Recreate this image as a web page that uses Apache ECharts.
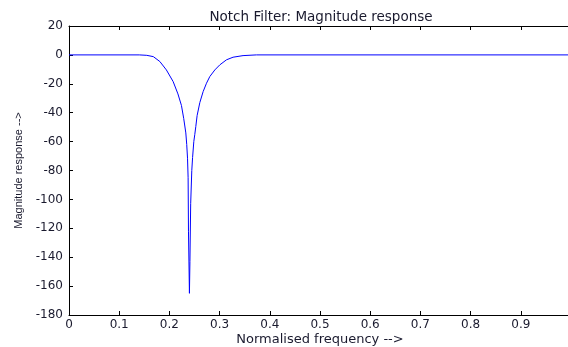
<!DOCTYPE html>
<html lang="en">
<head>
    <meta charset="UTF-8">
    <title>Notch Filter</title>
    <script src="https://cdn.jsdelivr.net/npm/echarts@6/dist/echarts.min.js"></script>
    <style>
        html, body { margin: 0; padding: 0; background: #fff; }
        #chart { width: 568px; height: 347px; }
    </style>
</head>
<body>
<div id="chart"></div>
<script>
    // normalised frequency and magnitude (dB)
    var freq = [0, 0.140, 0.155, 0.168, 0.181, 0.194, 0.2075, 0.217, 0.224, 0.2285, 0.2327, 0.2345,
        0.2361, 0.2373, 0.2380, 0.2399, 0.2409, 0.2424, 0.2446, 0.2462, 0.2486, 0.2506, 0.2526,
        0.2552, 0.2606, 0.2672, 0.2739, 0.2805, 0.2905, 0.3004, 0.3137, 0.3268, 0.3467, 0.3734, 1.0];
    var magnitude = [0, 0, -0.3, -1.2, -4.6, -10.4, -18.5, -27, -35, -44, -54, -62,
        -71.5, -85, -122, -165, -143, -103, -80, -71, -60, -55, -49.6,
        -42, -33, -25.4, -19.6, -15, -10.4, -6.9, -3.4, -1.6, -0.5, 0, 0];
    var xTicks = [0, 0.1, 0.2, 0.3, 0.4, 0.5, 0.6, 0.7, 0.8, 0.9];
    var yTicks = [-180, -160, -140, -120, -100, -80, -60, -40, -20, 0, 20];

    var points = freq.map(function (f, i) { return [f, magnitude[i]]; });
    // the picture is stretched sideways: wide font across, narrow font for the rotated name
    var wide = 'DejaVu Sans, Verdana, sans-serif';
    var narrow = 'Liberation Sans Narrow, Arial Narrow, Liberation Sans, sans-serif';
    var ink = '#1a1a2e';
    var axisBase = {
        axisLine: { onZero: false, lineStyle: { color: '#000', width: 1 } },
        axisTick: { inside: true, length: 4, lineStyle: { color: '#000' } },
        splitLine: { show: false }
    };

    var chart = echarts.init(document.getElementById('chart'));
    chart.setOption({
        animation: false,
        title: {
            text: 'Notch Filter: Magnitude response',
            left: 316, top: 5, textAlign: 'center',
            textStyle: { fontFamily: wide, fontSize: 13.5, fontWeight: 'normal', color: ink }
        },
        grid: { left: 69, top: 26, right: -3, bottom: 32, outerBoundsMode: 'none', containLabel: false },
        xAxis: [
            Object.assign({
                type: 'value', min: 0, max: 1, interval: 0.1,
                name: 'Normalised frequency -->', nameLocation: 'middle', nameGap: 18, nameMoveOverlap: false,
                nameTextStyle: { fontFamily: wide, fontSize: 13, color: ink },
                axisLabel: {
                    fontFamily: wide, fontSize: 12, color: ink, margin: 4,
                    formatter: function (v) { var r = Math.round(v * 10) / 10; return xTicks.indexOf(r) >= 0 ? String(r) : ''; }
                }
            }, axisBase),
            Object.assign({
                type: 'value', min: 0, max: 1, interval: 0.1, position: 'top',
                axisLabel: { show: false }
            }, axisBase)
        ],
        yAxis: Object.assign({
            type: 'value', min: -180, max: 20, interval: 20,
            name: 'Magnitude response -->', nameLocation: 'middle', nameGap: 45, nameRotate: 90, nameMoveOverlap: false,
            nameTextStyle: { fontFamily: narrow, fontSize: 11, color: ink },
            axisLabel: {
                fontFamily: wide, fontSize: 12, color: ink, margin: 6,
                formatter: function (v) { return yTicks.indexOf(v) >= 0 ? String(v) : ''; }
            }
        }, axisBase),
        series: [{
            type: 'line',
            data: points,
            showSymbol: false,
            lineStyle: { color: '#0000ff', width: 1 }
        }]
    });
</script>
</body>
</html>
